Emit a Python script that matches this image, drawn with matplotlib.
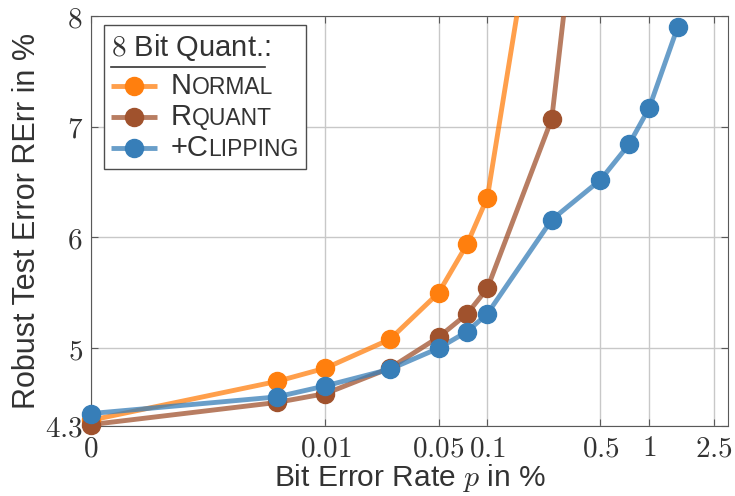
import matplotlib
matplotlib.use('Agg')
import matplotlib.pyplot as plt
from matplotlib.offsetbox import AnchoredOffsetbox, VPacker, HPacker, TextArea, DrawingArea
from matplotlib.lines import Line2D

plt.rcParams['font.family'] = ['Liberation Sans', 'DejaVu Sans']
plt.rcParams['mathtext.fontset'] = 'cm'

# bit error rate p in %, robust test error in %
p = [0, 0.005, 0.01, 0.025, 0.05, 0.075, 0.1, 0.25, 0.5, 0.75, 1, 1.5]
normal = [4.35, 4.70, 4.82, 5.08, 5.50, 5.94, 6.36, 9.95]
rquant = [4.31, 4.51, 4.59, 4.82, 5.10, 5.31, 5.54, 7.07, 10.9]
clipping = [4.41, 4.56, 4.66, 4.81, 5.00, 5.15, 5.31, 6.16, 6.52, 6.84, 7.17, 7.90]

x_ticks = [0, 0.01, 0.05, 0.1, 0.5, 1, 2.5]
x_tick_labels = ['0', '0.01', '0.05', '0.1', '0.5', '1', '2.5']
y_ticks = [4.3, 5, 6, 7, 8]
y_tick_labels = ['4.3', '5', '6', '7', '8']

series = [
    (normal, ('N', 'ORMAL'), '#ff7f0e'),
    (rquant, ('R', 'QUANT'), '#a0522d'),
    (clipping, ('+C', 'LIPPING'), '#377eb8'),
]
txt = '#333333'

fig = plt.figure(figsize=(7.35, 4.96), dpi=100)
ax = fig.add_axes([0.1238, 0.1417, 0.8667, 0.826])

for vals, lab, col in series:
    ax.plot(p[:len(vals)], vals, color=col, alpha=0.75, lw=3.5, solid_capstyle='butt', zorder=3)
    ax.plot(p[:len(vals)], vals, 'o', color=col, ms=13, mec=col, zorder=4, clip_on=False)

ax.set_xscale('symlog', linthresh=0.005, linscale=1.033)
ax.set_xlim(0, 3.07)
ax.set_ylim(4.3, 8)
ax.set_xticks(x_ticks)
ax.set_xticklabels(['$' + s + '$' for s in x_tick_labels])
ax.set_yticks(y_ticks)
ax.set_yticklabels(['$' + s + '$' for s in y_tick_labels])
ax.minorticks_off()
ax.tick_params(direction='in', length=5, color='0.35', labelsize=21, labelcolor=txt,
               top=True, right=True, pad=6)
ax.grid(True, color='#c8c8c8', lw=1, zorder=0)
for s in ax.spines.values():
    s.set_color('0.35')

ax.set_xlabel('Bit Error Rate $p$ in %', fontsize=21.5, color=txt, labelpad=0)
ax.set_ylabel('Robust Test Error RErr in %', fontsize=22, color=txt, labelpad=2)

# legend with small caps labels
title = TextArea('$8$ Bit Quant.:', textprops=dict(size=21, color=txt))
uline = DrawingArea(111, 2)
uline.add_artist(Line2D([0, 111], [1, 1], color=txt, lw=1.2))
rows = [title, uline]
for vals, lab, col in series:
    da = DrawingArea(33, 14)
    da.add_artist(Line2D([0, 33], [7, 7], color=col, alpha=0.75, lw=3.5, solid_capstyle='butt'))
    da.add_artist(Line2D([16.5], [7], marker='o', color=col, ms=13, mec=col))
    label = HPacker(children=[TextArea(lab[0], textprops=dict(size=21, color=txt)),
                              TextArea(lab[1], textprops=dict(size=16.5, color=txt))],
                    align='baseline', pad=0, sep=0)
    rows.append(HPacker(children=[da, label], align='center', pad=0, sep=10))
box = VPacker(children=rows, align='left', pad=0, sep=2.2)
leg = AnchoredOffsetbox(loc='upper left', child=box, pad=0.5, borderpad=0, frameon=True,
                        bbox_to_anchor=(0.0204, 0.978), bbox_transform=ax.transAxes,
                        prop=dict(size=10))
leg.patch.set_boxstyle('square,pad=0')
leg.patch.set_edgecolor('0.3')
leg.patch.set_linewidth(1)
leg.set_zorder(5)
ax.add_artist(leg)

fig.savefig('out.png', dpi=100)
